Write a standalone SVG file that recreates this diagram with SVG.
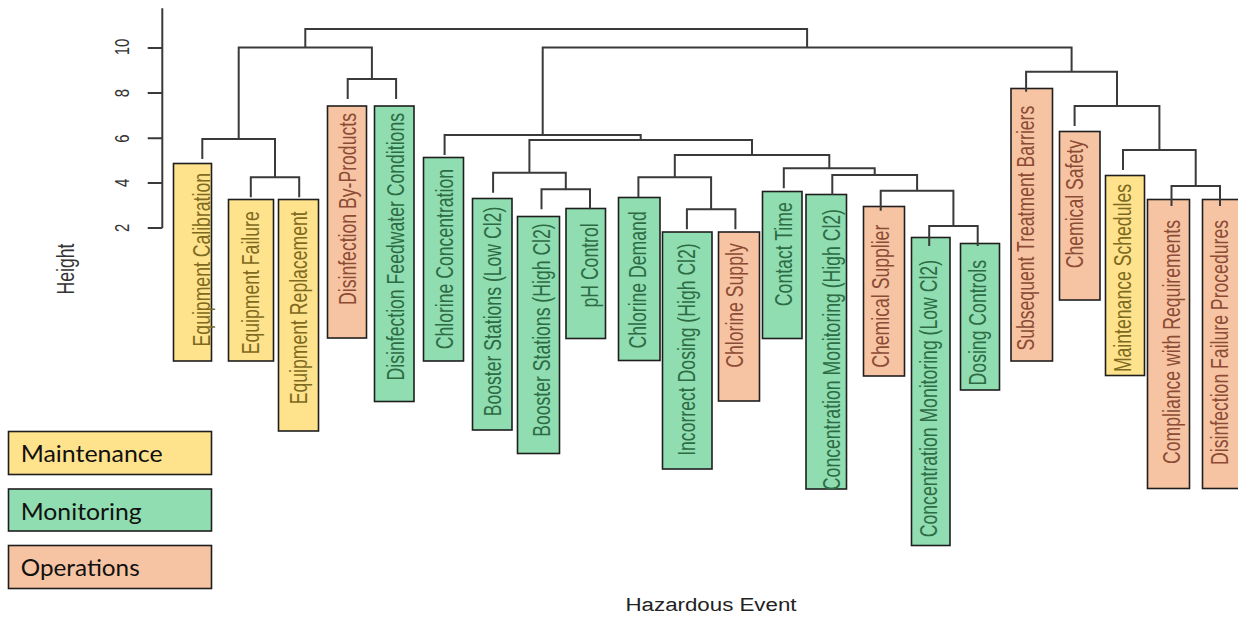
<svg xmlns="http://www.w3.org/2000/svg" width="1238" height="621" viewBox="0 0 1238 621">
<style>
.bg{fill:#ffffff}
.m{fill:#FFE28C;stroke:#1e1e1e;stroke-width:1.6}
.g{fill:#8FDDB0;stroke:#1e1e1e;stroke-width:1.6}
.o{fill:#F7C4A3;stroke:#1e1e1e;stroke-width:1.6}
.lbl{font-family:"Liberation Sans",Arial,sans-serif;font-size:24.5px;text-anchor:end;dominant-baseline:central}
.tm{fill:#7d6a20}
.tg{fill:#2d6b44}
.to{fill:#8c4b35}
.ln{stroke:#3a3a3a;stroke-width:2;fill:none}
.ax{font-family:"Liberation Sans",Arial,sans-serif;font-size:21px;fill:#333;text-anchor:middle;dominant-baseline:central}
.axt{font-family:"Liberation Sans",Arial,sans-serif;font-size:24.5px;fill:#333;text-anchor:middle;dominant-baseline:central}
.leg{font-family:Lato,"Liberation Sans",sans-serif;font-size:24px;fill:#111}
.xt{font-family:"Liberation Sans",Arial,sans-serif;font-size:18px;fill:#222;text-anchor:middle}
</style>
<rect class="bg" x="0" y="0" width="1238" height="621"/>

<g id="axis">
<path class="ln" d="M162.3 8.3 V228 M147.7 48 H162.3 M147.7 93 H162.3 M147.7 138.3 H162.3 M147.7 183 H162.3 M147.7 228 H162.3"/>
<text class="ax" transform="translate(121.7,47) rotate(-90) scale(0.71,1)">10</text>
<text class="ax" transform="translate(121.7,93) rotate(-90) scale(0.71,1)">8</text>
<text class="ax" transform="translate(121.7,138.5) rotate(-90) scale(0.71,1)">6</text>
<text class="ax" transform="translate(121.7,182.8) rotate(-90) scale(0.71,1)">4</text>
<text class="ax" transform="translate(121.7,227.8) rotate(-90) scale(0.71,1)">2</text>
<text class="axt" transform="translate(65.5,269) rotate(-90) scale(0.72,1)">Height</text>
<text class="xt" x="711" y="611" textLength="171" lengthAdjust="spacingAndGlyphs">Hazardous Event</text>
</g>

<g id="n01"><rect class="m" x="173.5" y="163.5" width="38" height="197.5"/><text class="lbl tm" transform="translate(202.3,173) rotate(-90) scale(0.72,1)">Equipment Calibration</text></g>
<g id="n02"><rect class="m" x="228.5" y="199.5" width="45" height="161.5"/><text class="lbl tm" transform="translate(250.8,211.3) rotate(-90) scale(0.72,1)">Equipment Failure</text></g>
<g id="n03"><rect class="m" x="278.5" y="199.5" width="40" height="231.5"/><text class="lbl tm" transform="translate(299.2,211.3) rotate(-90) scale(0.72,1)">Equipment Replacement</text></g>
<g id="n04"><rect class="o" x="327.5" y="106" width="39" height="232"/><text class="lbl to" transform="translate(347.7,113) rotate(-90) scale(0.72,1)">Disinfection By-Products</text></g>
<g id="n05"><rect class="g" x="374.5" y="106" width="39.5" height="295.5"/><text class="lbl tg" transform="translate(396.1,113) rotate(-90) scale(0.72,1)">Disinfection Feedwater Conditions</text></g>
<g id="n06"><rect class="g" x="423.5" y="157.5" width="40" height="203.5"/><text class="lbl tg" transform="translate(444.6,169) rotate(-90) scale(0.72,1)">Chlorine Concentration</text></g>
<g id="n07"><rect class="g" x="472.5" y="198.5" width="39.5" height="231.5"/><text class="lbl tg" transform="translate(493.1,206.7) rotate(-90) scale(0.72,1)">Booster Stations (Low Cl2)</text></g>
<g id="n08"><rect class="g" x="517.5" y="216.5" width="42" height="237"/><text class="lbl tg" transform="translate(541.5,223.3) rotate(-90) scale(0.72,1)">Booster Stations (High Cl2)</text></g>
<g id="n09"><rect class="g" x="566" y="208.5" width="39.5" height="130"/><text class="lbl tg" transform="translate(590,223.3) rotate(-90) scale(0.72,1)">pH Control</text></g>
<g id="n10"><rect class="g" x="618.5" y="197.5" width="41.5" height="163"/><text class="lbl tg" transform="translate(638.4,211.3) rotate(-90) scale(0.72,1)">Chlorine Demand</text></g>
<g id="n11"><rect class="g" x="662.5" y="232" width="49.5" height="237"/><text class="lbl tg" transform="translate(686.9,243.3) rotate(-90) scale(0.72,1)">Incorrect Dosing (High Cl2)</text></g>
<g id="n12"><rect class="o" x="718.5" y="232" width="41" height="169"/><text class="lbl to" transform="translate(735.4,243.3) rotate(-90) scale(0.72,1)">Chlorine Supply</text></g>
<g id="n13"><rect class="g" x="762.5" y="191.5" width="39.5" height="147"/><text class="lbl tg" transform="translate(783.8,202.3) rotate(-90) scale(0.72,1)">Contact Time</text></g>
<g id="n14"><rect class="g" x="806" y="194.5" width="40.5" height="294.5"/><text class="lbl tg" transform="translate(832.3,209) rotate(-90) scale(0.72,1)">Concentration Monitoring (High Cl2)</text></g>
<g id="n15"><rect class="o" x="863.5" y="206.5" width="41" height="169.5"/><text class="lbl to" transform="translate(880.7,224.7) rotate(-90) scale(0.72,1)">Chemical Supplier</text></g>
<g id="n16"><rect class="g" x="911.5" y="237.5" width="38.5" height="308"/><text class="lbl tg" transform="translate(929.2,260) rotate(-90) scale(0.72,1)">Concentration Monitoring (Low Cl2)</text></g>
<g id="n17"><rect class="g" x="960.5" y="243.5" width="39" height="146.5"/><text class="lbl tg" transform="translate(977.7,260) rotate(-90) scale(0.72,1)">Dosing Controls</text></g>
<g id="n18"><rect class="o" x="1011" y="88.5" width="41.5" height="272.5"/><text class="lbl to" transform="translate(1026.1,105.7) rotate(-90) scale(0.72,1)">Subsequent Treatment Barriers</text></g>
<g id="n19"><rect class="o" x="1059.5" y="131.5" width="40.5" height="168.5"/><text class="lbl to" transform="translate(1074.6,140) rotate(-90) scale(0.72,1)">Chemical Safety</text></g>
<g id="n20"><rect class="m" x="1105.5" y="175.5" width="39" height="200"/><text class="lbl tm" transform="translate(1123,184) rotate(-90) scale(0.72,1)">Maintenance Schedules</text></g>
<g id="n21"><rect class="o" x="1147.5" y="199.5" width="42" height="289"/><text class="lbl to" transform="translate(1171.5,220) rotate(-90) scale(0.72,1)">Compliance with Requirements</text></g>
<g id="n22"><rect class="o" x="1202.5" y="199.5" width="40" height="289"/><text class="lbl to" transform="translate(1220,220) rotate(-90) scale(0.72,1)">Disinfection Failure Procedures</text></g>

<g id="connectors">
<path class="ln" d="M250.8 197.3 V177.3 H299.2 V197.3
M202.3 159 V139 H275 V177.3
M347.7 99 V79 H396.1 V99
M238.7 139 V47.5 H371.9 V79
M541.5 209.3 V189.3 H590 V209.3
M493.1 192.7 V172.7 H565.8 V189.3
M686.9 229.3 V209.3 H735.4 V229.3
M638.4 197.3 V177.3 H711.1 V209.3
M929.2 246 V226 H977.7 V246
M880.7 210.7 V190.7 H953.4 V226
M832.3 195 V175 H917.1 V190.7
M783.8 188.3 V168.3 H874.7 V175
M674.8 177.3 V155 H829.3 V168.3
M529.4 172.7 V140 H752 V155
M444.6 155 V135 H640.7 V140
M1171.5 206 V186 H1220 V206
M1123 170 V150 H1195.7 V186
M1074.6 126 V106 H1159.4 V150
M1026.1 91.7 V71.7 H1117 V106
M542.7 135 V47.5 H1071.6 V71.7
M305.3 47.5 V29 H807.1 V47.5"/>
</g>

<g id="legend-maintenance"><rect class="m" x="8.5" y="431.5" width="203" height="43"/><text class="leg" x="20.7" y="462.3" textLength="142" lengthAdjust="spacingAndGlyphs">Maintenance</text></g>
<g id="legend-monitoring"><rect class="g" x="8.5" y="489" width="203" height="42"/><text class="leg" x="20.7" y="520" textLength="121" lengthAdjust="spacingAndGlyphs">Monitoring</text></g>
<g id="legend-operations"><rect class="o" x="8.5" y="545.5" width="203" height="43"/><text class="leg" x="20.7" y="575.7" textLength="119" lengthAdjust="spacingAndGlyphs">Operations</text></g>
</svg>
